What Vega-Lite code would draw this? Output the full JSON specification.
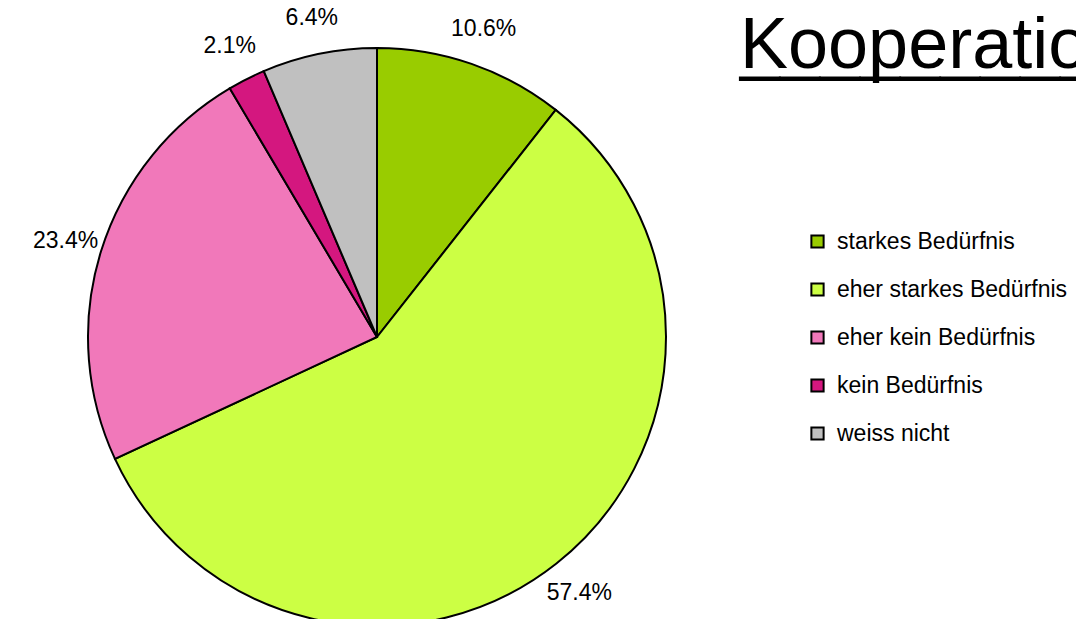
{
  "$schema": "https://vega.github.io/schema/vega-lite/v6.json",
  "width": 754,
  "height": 564,
  "autosize": {"type": "none"},
  "padding": {"left": 0, "top": 55, "right": 322, "bottom": 0},
  "background": "white",
  "title": {
    "text": "Kooperationen",
    "subtitle": "__________",
    "orient": "top",
    "anchor": "start",
    "frame": "group",
    "dx": 740,
    "dy": 77,
    "offset": 0,
    "font": "Liberation Sans",
    "fontSize": 72,
    "fontWeight": "normal",
    "color": "black",
    "subtitleFont": "Liberation Sans",
    "subtitleFontSize": 72,
    "subtitleColor": "black",
    "subtitlePadding": -73
  },
  "data": {
    "values": [
      {"cat": "starkes Bedürfnis", "frac": 0.106, "order": 1},
      {"cat": "eher starkes Bedürfnis", "frac": 0.574, "order": 2},
      {"cat": "eher kein Bedürfnis", "frac": 0.234, "order": 3},
      {"cat": "kein Bedürfnis", "frac": 0.021, "order": 4},
      {"cat": "weiss nicht", "frac": 0.064, "order": 5}
    ]
  },
  "encoding": {
    "theta": {"field": "frac", "type": "quantitative", "stack": true},
    "order": {"field": "order", "type": "quantitative"}
  },
  "layer": [
    {
      "mark": {"type": "arc", "outerRadius": 289, "stroke": "black", "strokeWidth": 2},
      "encoding": {
        "color": {
          "field": "cat",
          "type": "nominal",
          "sort": ["starkes Bedürfnis", "eher starkes Bedürfnis", "eher kein Bedürfnis", "kein Bedürfnis", "weiss nicht"],
          "scale": {
            "domain": ["starkes Bedürfnis", "eher starkes Bedürfnis", "eher kein Bedürfnis", "kein Bedürfnis", "weiss nicht"],
            "range": ["#99CC00", "#CCFF44", "#F178BA", "#D4177F", "#C0C0C0"]
          },
          "legend": {
            "orient": "none",
            "legendX": 806,
            "legendY": 175,
            "title": null,
            "padding": 0,
            "symbolType": "square",
            "symbolSize": 150,
            "symbolStrokeColor": "black",
            "symbolStrokeWidth": 2,
            "symbolOpacity": 1,
            "labelFont": "Liberation Sans",
            "labelFontSize": 23,
            "labelColor": "black",
            "labelOffset": 8,
            "labelLimit": 400,
            "rowPadding": 24
          }
        }
      }
    },
    {
      "mark": {"type": "text", "radius": 326, "font": "Liberation Sans", "fontSize": 23, "color": "black"},
      "encoding": {
        "text": {"field": "frac", "type": "quantitative", "format": ".1%"}
      }
    }
  ],
  "config": {"view": {"stroke": null}}
}
